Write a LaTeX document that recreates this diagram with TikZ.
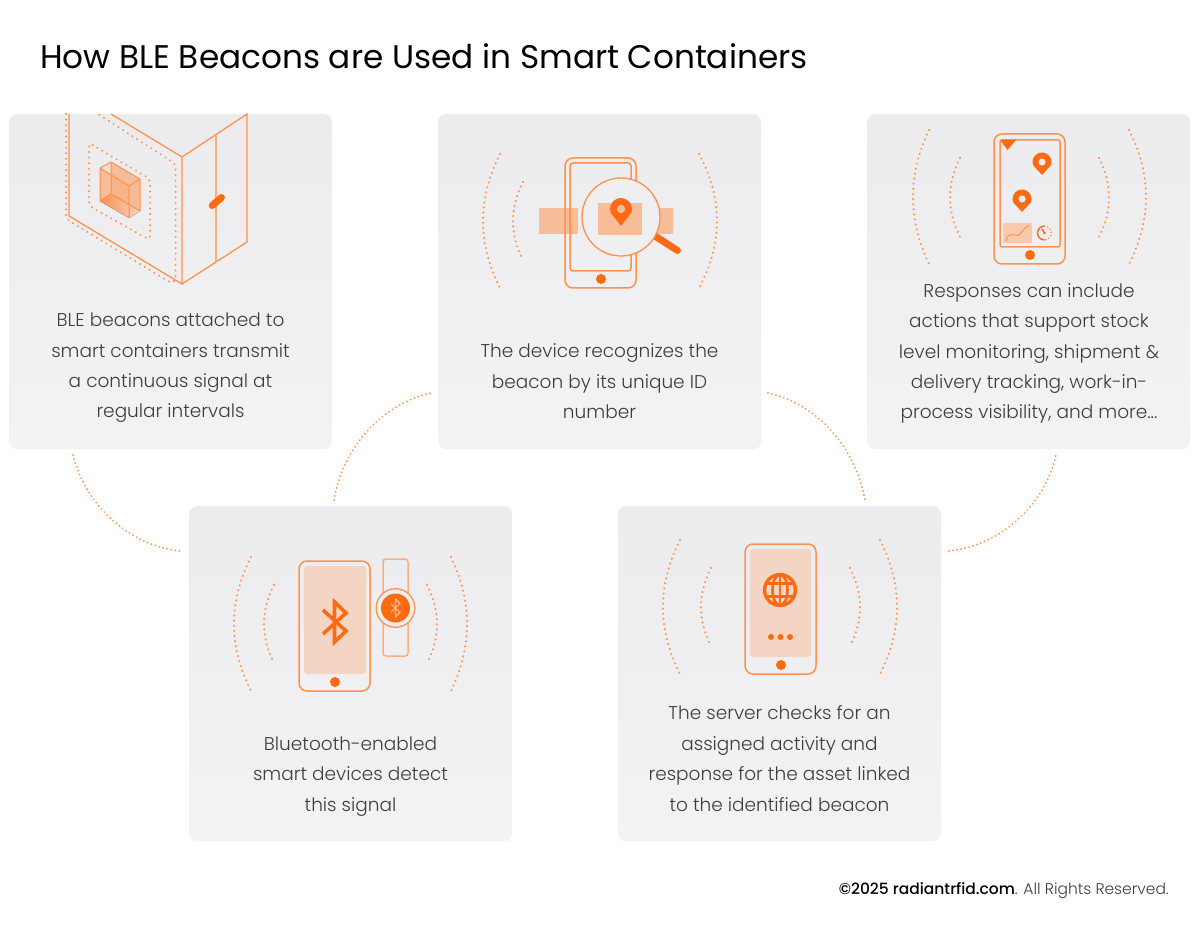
\documentclass[tikz,border=0pt]{standalone}
\usepackage{fontspec}
\setmainfont{Poppins}[UprightFont=* Light,BoldFont=* Medium]
\newfontfamily\titlefont{Poppins}
\definecolor{org}{HTML}{FF6A13}
\definecolor{ln}{HTML}{FF914D}
\definecolor{lnl}{HTML}{FFAD7D}
\definecolor{band}{HTML}{F7BC98}
\definecolor{scr}{HTML}{F4D5C3}
\definecolor{ctop}{HTML}{ECECEE}
\definecolor{cbot}{HTML}{F3F3F5}
\definecolor{mid}{HTML}{EFEFF1}
\definecolor{txt}{HTML}{3E3E40}
\tikzset{
  x=1pt,y=-1pt,
  card/.style={rounded corners=8pt,top color=ctop,bottom color=cbot,draw=none,minimum width=323pt,minimum height=335pt,inner sep=0pt},
  body/.style={align=center,text=txt,font=\fontsize{18.5}{30.4}\selectfont,inner sep=0pt},
  dots/.style={draw=ln,line width=2.3pt,line cap=round,dash pattern=on 0.01pt off 5.1pt},
  fdots/.style={draw=ln,line width=2.2pt,line cap=round,dash pattern=on 0.01pt off 5.6pt},
  link/.style={draw=ln,line width=2pt,line cap=round,dash pattern=on 0.01pt off 4.1pt},
  phone/.style={draw=ln,line width=1.5pt,rounded corners=8pt},
  thin/.style={draw=ln,line width=1.3pt},
}
\newcommand{\darc}[4]{\draw[dots] (#1,#2) .. controls ({#1+(#4-#1)*4/3},{#2+(#3-#2)/3}) and ({#1+(#4-#1)*4/3},{#2+(#3-#2)*2/3}) .. (#1,#3);}
\newcommand{\pin}[5]{\fill[org] (#1,#2) ++(-#3*0.94,#3*0.34) arc[start angle=200,end angle=-20,radius=#3,y radius=-#3] -- (#1,#4) -- cycle;
  \fill[#5] (#1,#2) circle[radius=#3*0.38];}
\begin{document}
\begin{tikzpicture}
\useasboundingbox (0,0) rectangle (1200,936);
\fill[white] (0,0) rectangle (1200,936);
\node[anchor=west,text=black,inner sep=0pt,font=\titlefont\fontsize{32.7}{38}\selectfont] (title) at (40,56) {How BLE Beacons are Used in Smart Containers};
% cards
\node[card,anchor=north west] (c1) at (9,114) {};
\node[card,anchor=north west] (c2) at (438,114) {};
\node[card,anchor=north west] (c3) at (867,114) {};
\node[card,anchor=north west] (c4) at (189,506) {};
\node[card,anchor=north west] (c5) at (618,506) {};
% connectors
\coordinate (a1) at (73,455); \coordinate (a2) at (180,551);
\coordinate (b1) at (334,500); \coordinate (b2) at (431,393);
\coordinate (d1) at (768,393); \coordinate (d2) at (865,500);
\coordinate (e1) at (949,551); \coordinate (e2) at (1056,455);
\draw[link] (a1) .. controls (85,505) and (130,546) .. (a2);
\draw[link] (b1) .. controls (343,445) and (385,403) .. (b2);
\draw[link] (d1) .. controls (815,403) and (855,445) .. (d2);
\draw[link] (e1) .. controls (1000,546) and (1045,505) .. (e2);
% ---- card 1 icon
\begin{scope}
\fill[band] (100,168)--(129,186)--(129,218)--(100,201)--cycle;
\fill[band,opacity=.45] (129,186)--(140,179)--(140,211)--(129,218)--cycle;
\fill[band,opacity=.35] (111,162)--(140,179)--(129,186)--(100,168)--cycle;
\fill[left color=org!55!band,right color=scr] (100,201)--(111,194)--(140,211)--(129,218)--cycle;
\fill[band!85!org,opacity=.7] (111,162)--(140,179)--(140,211)--(111,194)--cycle;
\draw[thin,line width=1pt,line join=round] (100,168)--(111,162)--(140,179)--(129,186)--cycle (111,162)--(111,194)--(140,211)--(140,179) (100,168)--(100,201) (129,186)--(129,218) (111,194)--(100,201);
\draw[thin] (111,114)--(182,157)--(182,284)--(69,216)--(69,114);
\draw[thin] (182,157)--(247,114)--(247,242)--(182,284);
\draw[draw=lnl,line width=1.5pt] (216,135)--(216,262);
\draw[org,line width=7pt,line cap=round] (212.2,205.5)--(221.5,197.5);
\draw[fdots,rounded corners=4pt] (66,114)--(66,219)--(172,283.5)--(175.6,280)--(175.6,164)--(98,114);
\draw[fdots,rounded corners=4pt] (89,143)--(150,179)--(150,240)--(89,206)--cycle;
\end{scope}
% ---- card 2 icon
\darc{500}{154}{288}{483}
\darc{523}{182}{260}{513}
\darc{699}{154}{288}{717}
\fill[band] (539,208) rectangle (578,234);
\fill[band] (640,208) rectangle (673,234);
\draw[phone,rounded corners=8pt] (565,158) rectangle (636,288);
\draw[phone,rounded corners=3pt] (570,163) rectangle (631,271);
\fill[org] (601,279) circle[radius=5];
\draw[org,line width=7pt,line cap=round] (655,236)--(677.5,250.5);
\fill[mid] (621,217) circle[radius=39];
\draw[thin] (621,217) circle[radius=39];
\fill[band] (598,203) rectangle (642,235);
\pin{621}{209}{11}{226}{band}
% ---- card 3 icon
\darc{929}{130}{264}{913}
\darc{960}{158}{237}{950}
\darc{1099}{158}{237}{1109}
\darc{1129}{130}{264}{1146}
\draw[phone] (994,134) rectangle (1065,264);
\draw[phone,rounded corners=2pt] (1000,140) rectangle (1060,247);
\fill[org] (1030,255) circle[radius=5];
\fill[org] (1000,140)--(1016,140)--(1007.5,150)--cycle;
\pin{1042}{162}{9.5}{175}{ctop}
\pin{1022}{199}{9.5}{212}{ctop}
\fill[band!80!white,rounded corners=1pt] (1003,223) rectangle (1032,243);
\draw[ln,line width=1pt] (1006,241) .. controls (1009,228) and (1016,240) .. (1021,233) .. controls (1024,229) and (1026,227) .. (1029,225);
\draw[org,line width=1.4pt] (1044.5,226) arc[start angle=-90,end angle=-270,radius=7];
\draw[ln,line width=1.8pt,line cap=round,dash pattern=on 0.01pt off 3.4pt] (1044.5,226) arc[start angle=-90,end angle=90,radius=7];
\draw[org,line width=1.3pt,line cap=round] (1044.5,233)--(1042,229);
\fill[org] (1044.5,233) circle[radius=1.4];
% ---- card 4 icon
\darc{251}{557}{691}{234}
\darc{274}{585}{663}{264}
\darc{427}{585}{663}{437}
\darc{451}{557}{691}{467}
\draw[phone] (299,561) rectangle (370,691);
\fill[scr,rounded corners=3pt] (304,566) rectangle (366,674);
\fill[org] (335,682) circle[radius=5];
\draw[org,line width=3.6pt,line join=miter] (323,610)--(346,631)--(334.5,642)--(334.5,602)--(346,613)--(323,634);
\draw[draw=lnl,line width=1.5pt,rounded corners=3pt] (383,559) rectangle (408,656);
\fill[mid] (395.5,608) circle[radius=19.3];
\draw[thin] (395.5,608) circle[radius=19.3];
\fill[org] (395.5,608) circle[radius=14.5];
\draw[band,line width=1.1pt] (391,604)--(400,612.5)--(395.5,617)--(395.5,599)--(400,603.5)--(391,612);
% ---- card 5 icon
\darc{680}{540}{674}{663}
\darc{711}{568}{646}{701}
\darc{850}{568}{646}{860}
\darc{880}{540}{674}{897}
\draw[phone] (745,544) rectangle (816,674);
\fill[scr,rounded corners=3pt] (750,549) rectangle (811,657);
\fill[org] (781,665) circle[radius=5];
\begin{scope}[org,line width=2.6pt]
\draw[line width=3.4pt] (780,590) circle[radius=15.4];
\draw (780,590) ellipse[x radius=7.5,y radius=15.4];
\draw (780,575)--(780,605);
\draw (766.5,583.5)--(793.5,583.5) (766.5,596.5)--(793.5,596.5);
\end{scope}
\foreach \xx in {771,780.5,790}{\fill[org] (\xx,637) circle[radius=3];}
% ---- texts
\node[body] (t1) at (170.5,368) {BLE beacons attached to\\smart containers transmit\\a continuous signal at\\regular intervals};
\node[body] (t2) at (599.5,381.5) {The device recognizes the\\beacon by its unique ID\\number};
\node[body] (t3) at (1029,353.5) {Responses can include\\actions that support stock\\level monitoring, shipment \&\\delivery tracking, work-in-\\process visibility, and more...};
\node[body] (t4) at (350.5,776.5) {Bluetooth-enabled\\smart devices detect\\this signal};
\node[body] (t5) at (779.5,758.5) {The server checks for an\\assigned activity and\\response for the asset linked\\to the identified beacon};
\node[anchor=east,inner sep=0pt,text=txt,font=\fontsize{15.5}{18}\selectfont] (copy) at (1169,890.5) {{\bfseries\color{black}©2025 radiantrfid.com}. All Rights Reserved.};
\end{tikzpicture}
\end{document}
